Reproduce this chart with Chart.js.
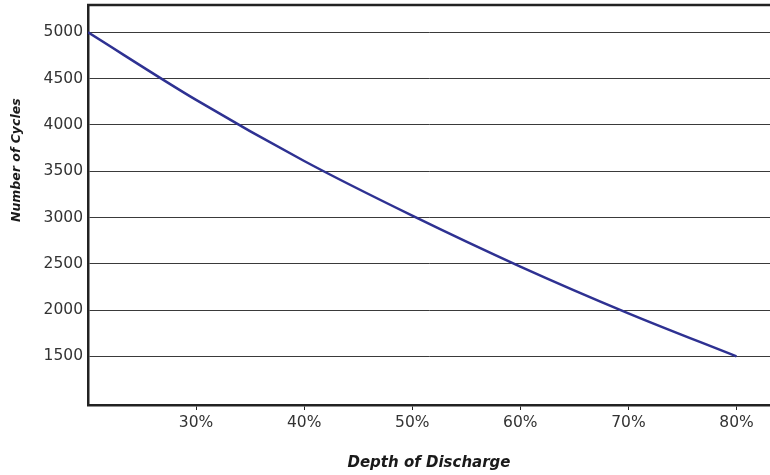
<!DOCTYPE html>
<html lang="en">
<head>
  <meta charset="UTF-8" />
  <title>Depth of Discharge vs Number of Cycles</title>
  <script src="https://cdn.jsdelivr.net/npm/chart.js"></script>
  <style>
    body { margin: 0; background: #fff; }
    #wrap { width: 770px; height: 475px; }
  </style>
</head>
<body>
  <div id="wrap"><canvas id="cycleChart"></canvas></div>
  <script>
    // values
    const depthPct = [20, 30, 40, 50, 60, 70, 80];
    const cycles = [5000, 4270, 3610, 3020, 2470, 1965, 1500];
    const xTicks = [30, 40, 50, 60, 70, 80];
    const yTicks = [1500, 2000, 2500, 3000, 3500, 4000, 4500, 5000];
    const yTitle = 'Number of Cycles';

    // top border of the plot area + the y title (sits above the axis middle in the original)
    const frameExtras = {
      id: 'frameExtras',
      afterDraw(chart) {
        const { ctx, chartArea } = chart;
        ctx.save();
        ctx.strokeStyle = '#222';
        ctx.lineWidth = 2.5;
        ctx.beginPath();
        ctx.moveTo(chartArea.left - 1, chartArea.top);
        ctx.lineTo(chartArea.right, chartArea.top);
        ctx.stroke();

        ctx.translate(17, chartArea.top + chartArea.height * 0.388);
        ctx.rotate(-Math.PI / 2);
        ctx.font = 'italic bold 12.5px "DejaVu Sans"';
        ctx.fillStyle = '#1a1a1a';
        ctx.textAlign = 'center';
        ctx.textBaseline = 'middle';
        ctx.fillText(yTitle, 0, 0);
        ctx.restore();
      }
    };

    const tickFont = { family: 'DejaVu Sans', size: 15.5 };
    const titleFont = { family: 'DejaVu Sans', size: 15, weight: 'bold', style: 'italic' };

    new Chart(document.getElementById('cycleChart'), {
      type: 'line',
      data: {
        datasets: [{
          data: depthPct.map((d, i) => ({ x: d, y: cycles[i] })),
          borderColor: '#2e3192',
          borderWidth: 2.5,
          pointRadius: 0,
          cubicInterpolationMode: 'monotone',
          fill: false
        }]
      },
      plugins: [frameExtras],
      options: {
        responsive: true,
        maintainAspectRatio: false,
        animation: false,
        layout: { padding: { top: 5, right: 0, left: 0, bottom: 0 } },
        plugins: { legend: { display: false }, tooltip: { enabled: false } },
        scales: {
          x: {
            type: 'linear',
            min: 20,
            max: 83.1,
            afterBuildTicks: s => { s.ticks = xTicks.map(v => ({ value: v })); },
            afterFit: s => { s.height = 70; s.paddingRight = 0; },
            ticks: { color: '#333', font: tickFont, padding: 4, callback: v => v + '%' },
            grid: { drawOnChartArea: false, tickLength: 5, color: '#222', lineWidth: 1 },
            border: { color: '#222', width: 2.5 },
            title: { display: true, text: 'Depth of Discharge', color: '#1a1a1a', font: titleFont, padding: { top: 0, bottom: 3 } }
          },
          y: {
            min: 975,
            max: 5295,
            afterBuildTicks: s => { s.ticks = yTicks.map(v => ({ value: v })); },
            afterFit: s => { s.width = 88; s.paddingTop = 0; s.paddingBottom = 0; },
            ticks: { color: '#333', font: tickFont, padding: 5, callback: v => String(v) },
            grid: { drawTicks: false, color: '#3a3a3a', lineWidth: 1 },
            border: { color: '#222', width: 2.5 },
            title: { display: false }
          }
        }
      }
    });
  </script>
</body>
</html>
